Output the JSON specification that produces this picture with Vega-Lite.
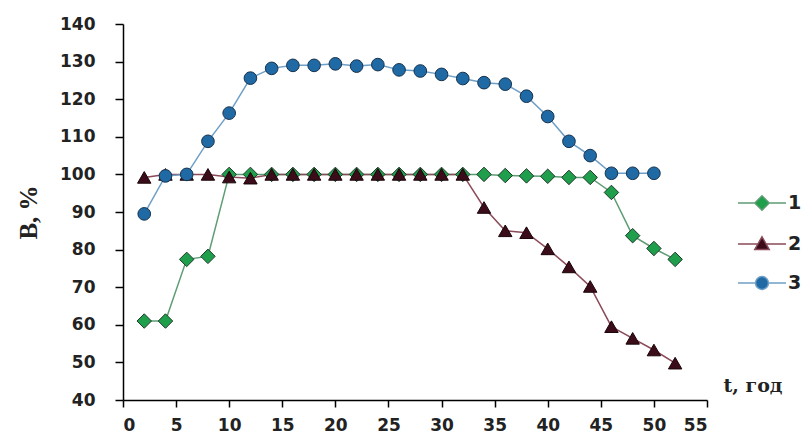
{
  "$schema": "https://vega.github.io/schema/vega-lite/v6.json",
  "autosize": "none",
  "width": 584,
  "height": 376,
  "padding": {"left": 123, "top": 24, "right": 99, "bottom": 37},
  "background": "white",
  "config": {
    "view": {"stroke": null},
    "axis": {"grid": false, "domainColor": "#000", "domainWidth": 1.5, "tickColor": "#000", "tickWidth": 1.5, "labelFont": "DejaVu Sans", "labelFontWeight": "bold", "labelFontSize": 17, "labelColor": "#222"}
  },
  "data": {"values": [
    {"s":"1","t":2,"B":61},{"s":"1","t":4,"B":61},{"s":"1","t":6,"B":77.4},{"s":"1","t":8,"B":78.2},{"s":"1","t":10,"B":100},{"s":"1","t":12,"B":100},{"s":"1","t":14,"B":100},{"s":"1","t":16,"B":100},{"s":"1","t":18,"B":100},{"s":"1","t":20,"B":100},{"s":"1","t":22,"B":100},{"s":"1","t":24,"B":100},{"s":"1","t":26,"B":100},{"s":"1","t":28,"B":100},{"s":"1","t":30,"B":100},{"s":"1","t":32,"B":100},{"s":"1","t":34,"B":100},{"s":"1","t":36,"B":99.7},{"s":"1","t":38,"B":99.6},{"s":"1","t":40,"B":99.5},{"s":"1","t":42,"B":99.2},{"s":"1","t":44,"B":99.2},{"s":"1","t":46,"B":95.2},{"s":"1","t":48,"B":83.7},{"s":"1","t":50,"B":80.3},{"s":"1","t":52,"B":77.4},
    {"s":"2","t":2,"B":99.2},{"s":"2","t":4,"B":100},{"s":"2","t":6,"B":100},{"s":"2","t":8,"B":100},{"s":"2","t":10,"B":99.3},{"s":"2","t":12,"B":99},{"s":"2","t":14,"B":100},{"s":"2","t":16,"B":100},{"s":"2","t":18,"B":100},{"s":"2","t":20,"B":100},{"s":"2","t":22,"B":100},{"s":"2","t":24,"B":100},{"s":"2","t":26,"B":100},{"s":"2","t":28,"B":100},{"s":"2","t":30,"B":100},{"s":"2","t":32,"B":100},{"s":"2","t":34,"B":91.2},{"s":"2","t":36,"B":85},{"s":"2","t":38,"B":84.5},{"s":"2","t":40,"B":80.2},{"s":"2","t":42,"B":75.4},{"s":"2","t":44,"B":70.2},{"s":"2","t":46,"B":59.5},{"s":"2","t":48,"B":56.4},{"s":"2","t":50,"B":53.3},{"s":"2","t":52,"B":49.8},
    {"s":"3","t":2,"B":89.5},{"s":"3","t":4,"B":99.6},{"s":"3","t":6,"B":100},{"s":"3","t":8,"B":108.8},{"s":"3","t":10,"B":116.3},{"s":"3","t":12,"B":125.6},{"s":"3","t":14,"B":128.2},{"s":"3","t":16,"B":129},{"s":"3","t":18,"B":129},{"s":"3","t":20,"B":129.4},{"s":"3","t":22,"B":128.8},{"s":"3","t":24,"B":129.2},{"s":"3","t":26,"B":127.8},{"s":"3","t":28,"B":127.5},{"s":"3","t":30,"B":126.6},{"s":"3","t":32,"B":125.5},{"s":"3","t":34,"B":124.4},{"s":"3","t":36,"B":124},{"s":"3","t":38,"B":120.8},{"s":"3","t":40,"B":115.4},{"s":"3","t":42,"B":108.8},{"s":"3","t":44,"B":105},{"s":"3","t":46,"B":100.3},{"s":"3","t":48,"B":100.3},{"s":"3","t":50,"B":100.3}
  ]},
  "encoding": {
    "x": {"field": "t", "type": "quantitative", "scale": {"domain": [0, 55], "nice": false, "zero": false},
      "axis": {"values": [0,5,10,15,20,25,30,35,40,45,50,55], "tickSize": 7, "labelPadding": 10, "title": "t, год", "titleFont": "DejaVu Serif", "titleFontWeight": "bold", "titleFontSize": 19, "titleColor": "#222", "titleX": 600, "titleY": -9, "titleAlign": "left", "titleBaseline": "alphabetic"}},
    "y": {"field": "B", "type": "quantitative", "scale": {"domain": [40, 140], "nice": false, "zero": false},
      "axis": {"values": [40,50,60,70,80,90,100,110,120,130,140], "tickSize": 8, "labelPadding": 20, "title": "В, %", "titleFont": "Liberation Serif", "titleFontWeight": "bold", "titleFontSize": 25, "titleColor": "#222", "titleX": -95, "titleY": 188, "titleAlign": "center", "titleBaseline": "middle", "titleAngle": -90}}
  },
  "layer": [
    {
      "mark": {"type": "line", "strokeWidth": 1.5},
      "encoding": {
        "color": {"field": "s", "type": "nominal",
          "scale": {"domain": ["1","2","3"], "range": ["#5f9c74", "#8a4a58", "#6f9fc6"]},
          "legend": {"title": null, "orient": "none", "legendX": 629, "legendY": 169, "symbolSize": 324, "symbolStrokeWidth": 1.5, "rowPadding": 19, "labelOffset": 16,
            "labelFont": "DejaVu Sans", "labelFontWeight": "bold", "labelFontSize": 19, "labelColor": "#222",
            "encode": {"symbols": {"update": {
              "shape": {"signal": "datum.value === '1' ? 'M-2.67,0L-0.8,0M0.8,0L2.67,0M-0.8,0L0,-0.8L0.8,0L0,0.8Z' : datum.value === '2' ? 'M-2.67,0L-0.5,0M0.5,0L2.67,0M0,-0.8L0.8,0.6L-0.8,0.6Z' : 'M-2.67,0L-0.72,0M0.72,0L2.67,0M-0.72,0A0.72,0.72 0 1,0 0.72,0A0.72,0.72 0 1,0 -0.72,0Z'"},
              "fill": {"signal": "datum.value === '1' ? '#1f9e4c' : datum.value === '2' ? '#3b0d1a' : '#1f6aa5'"}
            }}}
          }
        }
      }
    },
    {
      "transform": [{"filter": "datum.s === '1'"}],
      "mark": {"type": "point", "shape": "diamond", "filled": true, "opacity": 1, "size": 210, "fill": "#1f9e4c", "stroke": "#1e3a2a", "strokeWidth": 1}
    },
    {
      "transform": [{"filter": "datum.s === '2'"}],
      "mark": {"type": "point", "shape": "triangle-up", "filled": true, "opacity": 1, "size": 180, "fill": "#3b0d1a", "stroke": "#1a0508", "strokeWidth": 1}
    },
    {
      "transform": [{"filter": "datum.s === '3'"}],
      "mark": {"type": "point", "shape": "circle", "filled": true, "opacity": 1, "size": 160, "fill": "#1f6aa5", "stroke": "#17324d", "strokeWidth": 1}
    }
  ]
}
